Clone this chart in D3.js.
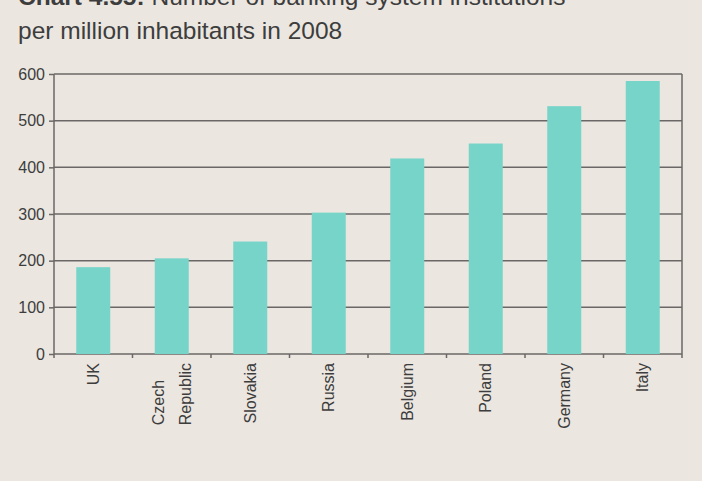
<!DOCTYPE html>
<html>
<head>
<meta charset="utf-8">
<script src="https://cdn.jsdelivr.net/npm/d3@7"></script>
<style>
  html, body { margin: 0; padding: 0; background: #ebe6e0; }
  svg { display: block; font-family: "Liberation Sans", Arial, sans-serif; }
</style>
</head>
<body>
<div class="chart"></div>
<script>
// values
const countries = ["UK", "Czech Republic", "Slovakia", "Russia", "Belgium", "Poland", "Germany", "Italy"]
const institutions = [186, 205, 241, 303, 419, 451, 531, 585]
const yTicks = [0, 100, 200, 300, 400, 500, 600]

const W = 702, H = 481
const margin = {top: 74, right: 20, bottom: 127, left: 54},
      width = W - margin.left - margin.right,
      height = H - margin.top - margin.bottom

const svg = d3.select(".chart")
  .append("svg")
    .attr("width", W)
    .attr("height", H)

svg.append("rect").attr("width", W).attr("height", H).attr("fill", "#ebe6e0")

// title (first line is cut off by the top edge)
const title = svg.append("text")
    .attr("x", 18)
    .attr("fill", "#3d3d3d")
    .style("font-size", "24.5px")
title.append("tspan").attr("x", 18).attr("y", 5)
    .style("font-weight", "bold").text("Chart 4.55: ")
title.append("tspan").text("Number of banking system institutions")
title.append("tspan").attr("x", 18).attr("y", 39).text("per million inhabitants in 2008")

const g = svg.append("g")
    .attr("transform", `translate(${margin.left},${margin.top})`)

const x = d3.scaleBand()
    .domain(countries)
    .range([0, width])
    .paddingInner(0.567)
    .paddingOuter(0.2835)

const y = d3.scaleLinear()
    .domain([0, 600])
    .range([height, 0])

const lineCol = "#6a6766"

// gridlines
g.append("g")
  .selectAll("line")
  .data(yTicks)
  .join("line")
    .attr("x1", 0)
    .attr("x2", width)
    .attr("y1", d => y(d))
    .attr("y2", d => y(d))
    .attr("stroke", lineCol)
    .attr("stroke-width", 1.5)

// bars
g.append("g")
  .selectAll("rect")
  .data(countries)
  .join("rect")
    .attr("x", d => x(d))
    .attr("width", x.bandwidth())
    .attr("y", (d, i) => y(institutions[i]))
    .attr("height", (d, i) => y(0) - y(institutions[i]))
    .attr("fill", "#76d4c9")

// left axis
const yAxis = g.append("g")
    .call(d3.axisLeft(y).tickValues(yTicks).tickSize(5).tickPadding(4).tickFormat(d3.format("d")))
yAxis.select(".domain").remove()
yAxis.selectAll(".tick line").attr("stroke", lineCol).attr("stroke-width", 1.5)
yAxis.selectAll(".tick text")
    .attr("fill", "#3d3d3d")
    .style("font-size", "16px")
    .style("font-family", "'Liberation Sans', Arial, sans-serif")

// frame lines left, right
g.append("line").attr("x1", 0).attr("x2", 0).attr("y1", 0).attr("y2", height + 4)
    .attr("stroke", lineCol).attr("stroke-width", 1.5)
g.append("line").attr("x1", width).attr("x2", width).attr("y1", 0).attr("y2", height + 4)
    .attr("stroke", lineCol).attr("stroke-width", 1.5)

// bottom ticks at category boundaries
const step = x.step()
g.append("g")
  .selectAll("line")
  .data(d3.range(1, countries.length))
  .join("line")
    .attr("x1", d => d * step)
    .attr("x2", d => d * step)
    .attr("y1", height)
    .attr("y2", height + 4)
    .attr("stroke", lineCol)
    .attr("stroke-width", 1.5)

// rotated category labels
const labelTop = height + 9
countries.forEach((c, i) => {
    const cx = x(c) + x.bandwidth() / 2
    const parts = c.split(" ")
    if (parts.length == 1) {
        g.append("text")
            .attr("transform", `translate(${cx},${labelTop}) rotate(-90)`)
            .attr("dy", "0.35em")
            .attr("text-anchor", "end")
            .attr("fill", "#3d3d3d")
            .style("font-size", "16px")
            .text(c)
    } else {
        // two lines, bottoms aligned, second line reaching the top
        const second = g.append("text")
            .attr("transform", `translate(${cx + 13.5},${labelTop}) rotate(-90)`)
            .attr("dy", "0.35em")
            .attr("text-anchor", "end")
            .attr("fill", "#3d3d3d")
            .style("font-size", "16px")
            .text(parts[1])
        const len = second.node().getComputedTextLength()
        g.append("text")
            .attr("transform", `translate(${cx - 13.5},${labelTop + len}) rotate(-90)`)
            .attr("dy", "0.35em")
            .attr("text-anchor", "start")
            .attr("fill", "#3d3d3d")
            .style("font-size", "16px")
            .text(parts[0])
    }
})
</script>
</body>
</html>
